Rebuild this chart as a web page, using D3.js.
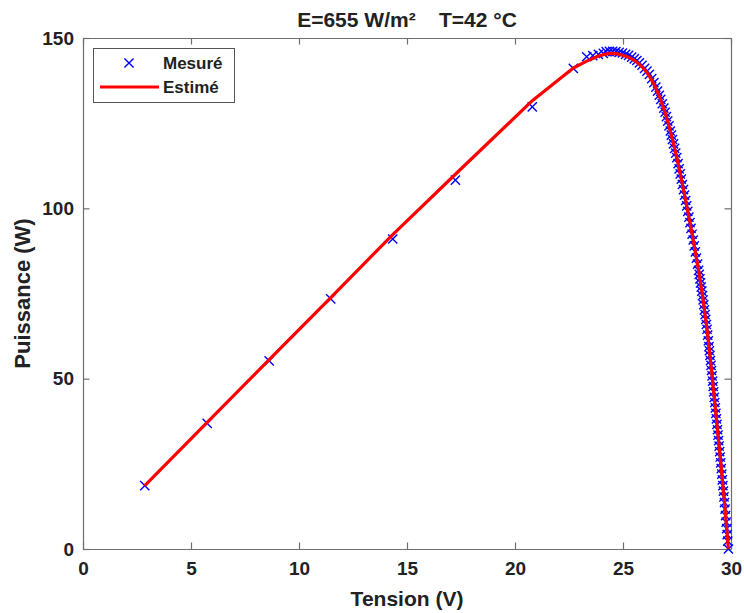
<!DOCTYPE html>
<html>
<head>
<meta charset="utf-8">
<script src="https://cdn.jsdelivr.net/npm/d3@7"></script>
<style>
  html, body { margin: 0; padding: 0; background: #fff; }
  svg text { font-family: "Liberation Sans", Arial, sans-serif; font-weight: bold; fill: #222; }
</style>
</head>
<body>
<svg id="pvChart" width="744" height="613"></svg>
<script>
// measured points (Tension V, Puissance W)
const tensionMes = [
  2.86, 5.75, 8.62, 11.47, 14.34, 17.24, 20.8, 22.7, 23.32, 23.6, 23.86, 24.09,
  24.22, 24.37, 24.52, 24.67, 24.82, 24.97, 25.12, 25.26, 25.40,
  25.52, 25.64, 25.76, 25.88, 26.00, 26.11, 26.22, 26.33, 26.43,
  26.52, 26.60, 26.68, 26.75, 26.82, 26.89, 26.95, 27.01, 27.07, 27.13, 27.19, 27.24, 27.29, 27.34, 27.39, 27.44, 27.49,
  27.55, 27.60, 27.65, 27.70, 27.75, 27.80, 27.85, 27.90, 27.95, 28.00, 28.05, 28.10, 28.15, 28.20, 28.25, 28.30, 28.35, 28.40, 28.45, 28.50,
  28.53, 28.56, 28.59, 28.62, 28.65, 28.68, 28.71, 28.74, 28.77, 28.80, 28.83, 28.86, 28.89, 28.92, 28.95, 28.98,
  29.000, 29.025, 29.050, 29.075, 29.100, 29.125, 29.150, 29.175, 29.200, 29.225, 29.250, 29.275, 29.300, 29.325, 29.350, 29.375,
  29.400, 29.425, 29.450, 29.475, 29.500, 29.525, 29.550, 29.575, 29.600, 29.625, 29.650, 29.675, 29.700, 29.725, 29.750, 29.775,
  29.800, 29.825, 29.850, 29.880
];
const puissanceMes = [
  18.6, 36.9, 55.2, 73.4, 91.0, 108.3, 129.8, 141.1, 144.5, 144.8, 145.2, 145.5,
  146.0, 146.1, 146.1, 146.0, 145.8, 145.6, 145.2, 144.9, 144.4,
  143.9, 143.4, 142.7, 142.0, 141.1, 140.3, 139.3, 138.1, 136.9,
  135.6, 134.4, 133.2, 132.0, 130.7, 129.4, 128.2, 126.9, 125.6, 124.2, 122.7, 121.5, 120.2, 118.9, 117.6, 116.2, 114.9,
  113.1, 111.6, 110.1, 108.6, 107.0, 105.5, 103.9, 102.3, 100.7, 99.1, 97.4, 95.8, 94.1, 92.4, 90.7, 89.0, 87.2, 85.4, 83.6, 81.8,
  80.6, 79.3, 78.1, 76.9, 75.7, 74.4, 73.1, 71.7, 70.2, 68.8, 67.4, 65.9, 64.5, 62.8, 61.1, 59.4,
  58.2, 56.8, 55.3, 53.9, 52.4, 50.8, 49.3, 47.7, 46.1, 44.5, 43.0, 41.4, 39.8, 38.2, 36.6, 35.0,
  33.4, 31.8, 30.2, 28.6, 27.0, 25.3, 23.6, 22.0, 20.3, 18.6, 17.0, 15.3, 13.6, 11.7, 9.8, 7.9,
  6.0, 4.2, 2.3, 0.0
];

// estimated model curve
const tensionEst = [
  2.86, 5.75, 8.62, 11.47, 14.34, 17.24, 20.8, 22.7, 23.32, 23.6, 23.86, 24.09,
  24.3, 24.5, 24.7, 24.9, 25.1, 25.3, 25.5, 25.7, 25.9, 26.1, 26.3, 26.5, 26.7, 26.9,
  27.1, 27.3, 27.5, 27.7, 27.9, 28.1, 28.3, 28.5, 28.7, 28.9, 29.1, 29.3, 29.5, 29.7, 29.88
];
const puissanceEst = [
  18.6, 37.2, 55.6, 73.8, 92.3, 110.0, 131.6, 141.2, 143.2, 144.0, 144.7, 145.1,
  145.4, 145.5, 145.4, 145.1, 144.7, 144.2, 143.5, 142.6, 141.4, 139.9, 138.0, 135.6, 132.6, 129.0,
  124.8, 120.0, 114.6, 108.6, 102.3, 95.8, 89.0, 81.8, 73.6, 64.0, 52.4, 39.8, 27.0, 13.6, 0.0
];

const xTicks = [0, 5, 10, 15, 20, 25, 30];
const yTicks = [0, 50, 100, 150];
const titleText = "E=655 W/m²    T=42 °C";
const xLabel = "Tension (V)";
const yLabel = "Puissance (W)";
const legendLabels = ["Mesuré", "Estimé"];

const svg = d3.select("#pvChart");
const plot = { left: 83, right: 731, top: 38, bottom: 549 };
const tickLen = 6.5;
const axisColor = "#6e6e6e";
const markerHalf = 4.6;

const xScale = d3.scaleLinear().domain([0, 30]).range([plot.left, plot.right]);
const yScale = d3.scaleLinear().domain([0, 150]).range([plot.bottom, plot.top]);

svg.append("rect").attr("width", 744).attr("height", 613).attr("fill", "#fff");

// path string for an "x" marker centred on cx, cy
function crossPath(cx, cy, s) {
  return "M" + (cx - s) + "," + (cy - s) + "L" + (cx + s) + "," + (cy + s) +
         "M" + (cx - s) + "," + (cy + s) + "L" + (cx + s) + "," + (cy - s);
}

function drawAxes() {
  // bottom + left axes with labels, ticks pointing inward
  svg.append("g")
    .attr("transform", "translate(0," + plot.bottom + ")")
    .call(d3.axisBottom(xScale).tickValues(xTicks).tickSizeInner(-tickLen).tickSizeOuter(0).tickPadding(13))
    .call(g => g.selectAll("text").attr("font-size", "19px").attr("fill", "#222"));

  svg.append("g")
    .attr("transform", "translate(" + plot.left + ",0)")
    .call(d3.axisLeft(yScale).tickValues(yTicks).tickSizeInner(-tickLen).tickSizeOuter(0).tickPadding(9))
    .call(g => g.selectAll("text").attr("font-size", "19px").attr("fill", "#222"));

  // top + right axes, ticks only
  svg.append("g")
    .attr("transform", "translate(0," + plot.top + ")")
    .call(d3.axisTop(xScale).tickValues(xTicks).tickSizeInner(-tickLen).tickSizeOuter(0).tickFormat(""));

  svg.append("g")
    .attr("transform", "translate(" + plot.right + ",0)")
    .call(d3.axisRight(yScale).tickValues(yTicks).tickSizeInner(-tickLen).tickSizeOuter(0).tickFormat(""));

  svg.selectAll(".domain, .tick line").attr("stroke", axisColor).attr("stroke-width", 1.2);
  svg.selectAll(".tick text").attr("font-family", "Liberation Sans, Arial, sans-serif").attr("font-weight", "bold");
}

function drawSeries() {
  const pts = tensionMes.map((v, i) => [v, puissanceMes[i]]);
  svg.append("g")
    .selectAll("path")
    .data(pts)
    .enter()
    .append("path")
    .attr("d", d => crossPath(xScale(d[0]), yScale(d[1]), markerHalf))
    .attr("stroke", "#0000ff")
    .attr("stroke-width", 1.4)
    .attr("fill", "none");

  const line = d3.line()
    .x(d => xScale(d[0]))
    .y(d => yScale(d[1]));

  svg.append("path")
    .datum(tensionEst.map((v, i) => [v, puissanceEst[i]]))
    .attr("d", line)
    .attr("fill", "none")
    .attr("stroke", "#ff0000")
    .attr("stroke-width", 3.2)
    .attr("stroke-linejoin", "round");
}

function drawLabels() {
  svg.append("text")
    .attr("x", (plot.left + plot.right) / 2)
    .attr("y", 27)
    .attr("text-anchor", "middle")
    .attr("font-size", "21px")
    .style("white-space", "pre")
    .text(titleText);

  svg.append("text")
    .attr("x", (plot.left + plot.right) / 2)
    .attr("y", 606)
    .attr("text-anchor", "middle")
    .attr("font-size", "21px")
    .text(xLabel);

  svg.append("text")
    .attr("transform", "translate(30," + ((plot.top + plot.bottom) / 2) + ") rotate(-90)")
    .attr("text-anchor", "middle")
    .attr("font-size", "22px")
    .text(yLabel);
}

function drawLegend() {
  const lg = svg.append("g");
  lg.append("rect")
    .attr("x", 93.5).attr("y", 48.5)
    .attr("width", 141).attr("height", 54)
    .attr("fill", "#fff")
    .attr("stroke", "#555")
    .attr("stroke-width", 1);

  // Mesuré marker
  lg.append("path")
    .attr("d", crossPath(129, 63, markerHalf))
    .attr("stroke", "#0000ff").attr("stroke-width", 1.4);

  // Estimé line
  lg.append("line")
    .attr("x1", 100).attr("x2", 159)
    .attr("y1", 87).attr("y2", 87)
    .attr("stroke", "#ff0000").attr("stroke-width", 3.2);

  lg.selectAll("text.leg")
    .data(legendLabels)
    .enter()
    .append("text")
    .attr("class", "leg")
    .attr("x", 163)
    .attr("y", (d, i) => 69 + i * 24)
    .attr("font-size", "17px")
    .text(d => d);
}

drawAxes();
drawSeries();
drawLabels();
drawLegend();
</script>
</body>
</html>
